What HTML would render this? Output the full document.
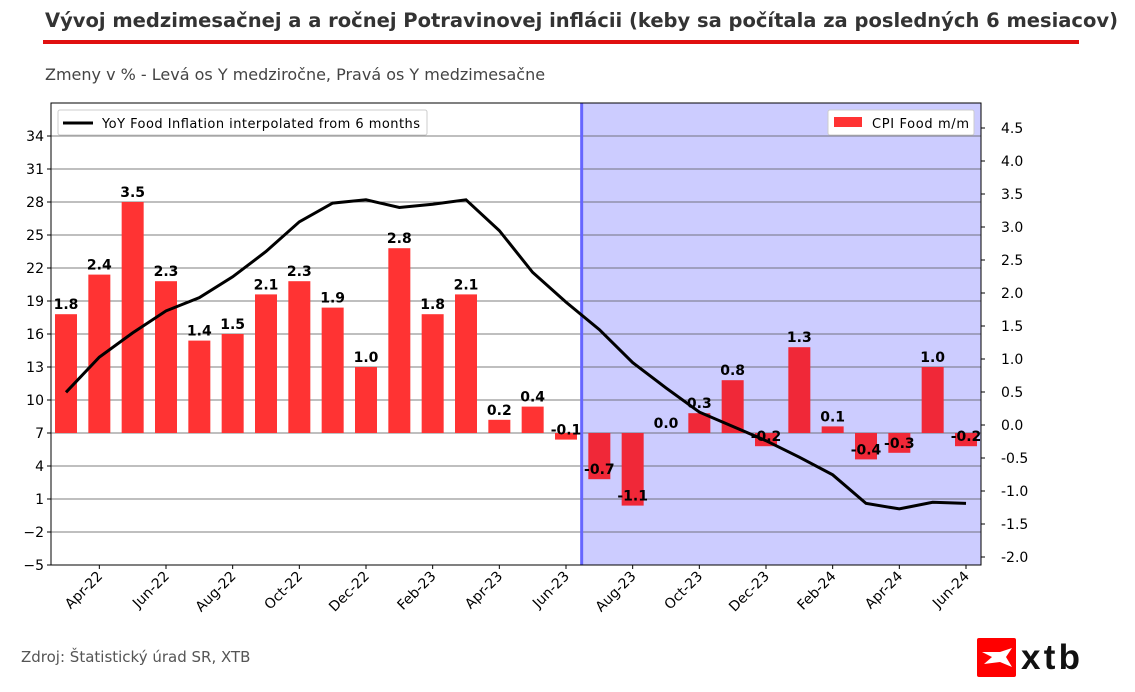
<!DOCTYPE html>
<html><head><meta charset="utf-8">
<style>
body{margin:0;width:1135px;height:687px;background:#fff;font-family:"Liberation Sans","DejaVu Sans",sans-serif;overflow:hidden}
</style></head><body>
<svg id="c" width="1135" height="687" xmlns="http://www.w3.org/2000/svg" font-family="DejaVu Sans, Liberation Sans, sans-serif">
<text x="45" y="27" font-size="19.5" font-weight="bold" fill="#333" textLength="1073">Vývoj medzimesačnej a a ročnej Potravinovej inflácii (keby sa počítala za posledných 6 mesiacov)</text>
<rect x="43" y="40" width="1036" height="4" fill="#e01010"/>
<text x="45" y="80" font-size="16" fill="#444">Zmeny v % - Levá os Y medziročne, Pravá os Y medzimesačne</text>
<text x="21" y="662" font-size="15" fill="#555">Zdroj: Štatistický úrad SR, XTB</text>
<g>
<rect x="977" y="638" width="39" height="39" rx="2" fill="#f00"/>
<path d="M982 652 L1000 652 L1012 648 L1006 657 L1012 667 L1000 662 L984 664 L992 657 Z" fill="#fff"/>
<text x="1021" y="669" font-size="35" font-weight="bold" fill="#111" textLength="59" font-family="Liberation Sans, sans-serif">xtb</text>
</g>
<g id="plot"></g>
</svg>
<script>
const months=["Mar-22","Apr-22","May-22","Jun-22","Jul-22","Aug-22","Sep-22","Oct-22","Nov-22","Dec-22","Jan-23","Feb-23","Mar-23","Apr-23","May-23","Jun-23","Jul-23","Aug-23","Sep-23","Oct-23","Nov-23","Dec-23","Jan-24","Feb-24","Mar-24","Apr-24","May-24","Jun-24"];
const cpiMoM=[1.8,2.4,3.5,2.3,1.4,1.5,2.1,2.3,1.9,1.0,2.8,1.8,2.1,0.2,0.4,-0.1,-0.7,-1.1,0.0,0.3,0.8,-0.2,1.3,0.1,-0.4,-0.3,1.0,-0.2];
const yoyLine=[10.7,13.9,16.1,18.1,19.3,21.2,23.5,26.2,27.9,28.2,27.5,27.8,28.2,25.4,21.6,18.9,16.4,13.4,11.1,8.9,7.6,6.3,4.8,3.2,0.6,0.1,0.7,0.6];
const leftTicks=[-5,-2,1,4,7,10,13,16,19,22,25,28,31,34];
const rightTicks=["4.5","4.0","3.5","3.0","2.5","2.0","1.5","1.0","0.5","0.0","-0.5","-1.0","-1.5","-2.0"];
const shadeStart=16;
const NS="http://www.w3.org/2000/svg";
const g=document.getElementById('plot');
const L=51,R=981,T=103,B=565;
const xs=i=>66+i*(900/27);
const yl=v=>565-(v+5)*11;
const yr=v=>433-v*66;
const yrLabel=v=>425-v*66;
function el(t,a,p){const e=document.createElementNS(NS,t);for(const k in a)e.setAttribute(k,a[k]);(p||g).appendChild(e);return e;}
const bg=el('rect',{x:L,y:T,width:R-L,height:B-T,fill:'#fff'});


const sx=(xs(shadeStart-1)+xs(shadeStart))/2-1;
const sh=el('rect',{x:sx,y:T,width:R-sx,height:B-T,fill:'#ccccff'});


leftTicks.forEach(v=>{
  const y=yl(v);
  const gl=el('line',{x1:L,x2:R,y1:y,y2:y,stroke:'#555','stroke-width':0.8});
  
  
  el('line',{x1:L-4,x2:L,y1:y,y2:y,stroke:'#000'});
  const t=el('text',{x:L-7,y:y+5,'font-size':14,'text-anchor':'end',fill:'#000'});
  t.textContent=v<0?'−'+Math.abs(v):v;
  
  
});
rightTicks.forEach(s=>{
  const y=yrLabel(parseFloat(s));
  el('line',{x1:R,x2:R+4,y1:y,y2:y,stroke:'#000'});
  const t=el('text',{x:R+20,y:y+5,'font-size':14,fill:'#000'});
  t.textContent=s;
  
  
});
const vl=el('line',{x1:sx,x2:sx,y1:T,y2:B,stroke:'#6666ff','stroke-width':3});


cpiMoM.forEach((v,i)=>{
  const x=xs(i),y0=yr(0),y1=yr(v);
  const r=el('rect',{x:x-11,y:Math.min(y0,y1),width:22,height:Math.max(Math.abs(y1-y0),0.01),fill:i>=shadeStart?'#f02838':'#ff3333'});
  
  
  const t=el('text',{x:x,y:y1-5,'font-size':14,'font-weight':'bold','text-anchor':'middle',fill:'#000'});
  t.textContent=v.toFixed(1);
  
  
});
const pts=yoyLine.map((v,i)=>xs(i)+','+yl(v)).join(' ');
const pl=el('polyline',{points:pts,fill:'none',stroke:'#000','stroke-width':3});


const fr=el('rect',{x:L,y:T,width:R-L,height:B-T,fill:'none',stroke:'#000','stroke-width':1});


months.forEach((m,i)=>{
  if(i%2!==1)return;
  const x=xs(i);
  el('line',{x1:x,x2:x,y1:B,y2:B+4,stroke:'#000'});
  const t=el('text',{x:x+4,y:B+12,'font-size':14,'text-anchor':'end',fill:'#000',transform:`rotate(-45 ${x+4} ${B+12})`});
  t.textContent=m;
  
  
});
const lg1=el('g',{});


el('rect',{x:58,y:110,width:369,height:25,fill:'#fff',stroke:'#ccc',rx:2},lg1);
el('line',{x1:63,x2:93,y1:123,y2:123,stroke:'#000','stroke-width':3},lg1);
const lt1=el('text',{x:102,y:128,'font-size':13,fill:'#000',textLength:318},lg1);
lt1.textContent='YoY Food Inflation interpolated from 6 months';
const lg2=el('g',{});


el('rect',{x:828,y:110,width:146,height:25,fill:'#fff',stroke:'#ccc',rx:2},lg2);
el('rect',{x:834,y:117,width:28,height:10,fill:'#ff3333'},lg2);
const lt2=el('text',{x:872,y:128,'font-size':13,fill:'#000',textLength:97},lg2);
lt2.textContent='CPI Food m/m';
</script>
</body></html>
